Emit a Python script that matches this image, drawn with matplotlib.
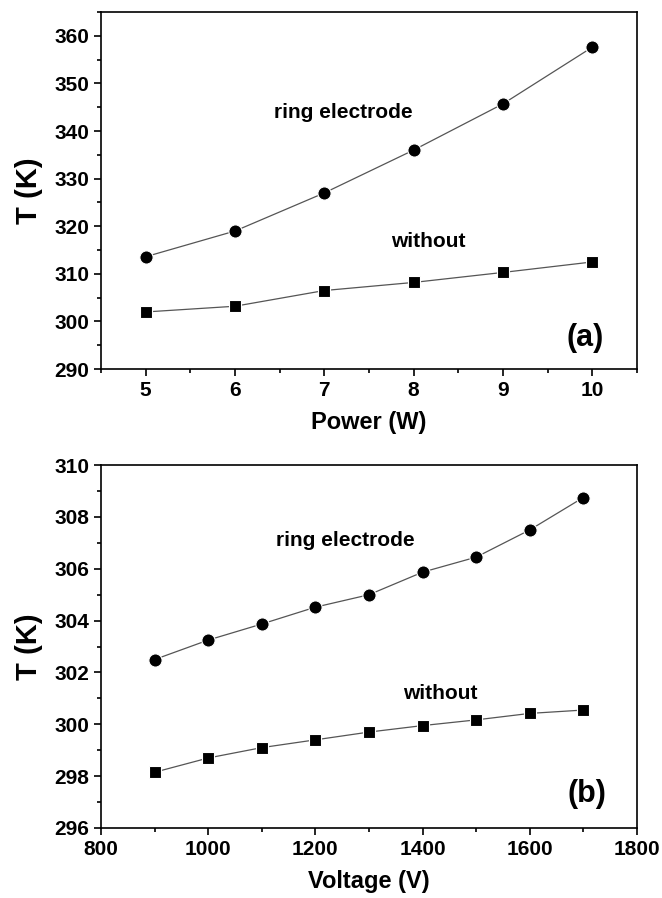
import numpy as np
import matplotlib
matplotlib.use('Agg')
import matplotlib.pyplot as plt
from matplotlib.ticker import MultipleLocator

plt.rcParams['font.family'] = ['Liberation Sans', 'DejaVu Sans']
plt.rcParams['font.weight'] = 'bold'

# panel (a): temperature vs power
power = [5, 6, 7, 8, 9, 10]
ring_a = [313.6, 319.0, 327.0, 336.0, 345.7, 357.6]
without_a = [302.0, 303.2, 306.5, 308.2, 310.3, 312.5]

# panel (b): temperature vs voltage
voltage = [900, 1000, 1100, 1200, 1300, 1400, 1500, 1600, 1700]
ring_b = [302.5, 303.25, 303.87, 304.52, 305.0, 305.87, 306.45, 307.5, 308.75]
without_b = [298.15, 298.7, 299.1, 299.4, 299.7, 299.95, 300.17, 300.42, 300.55]

fig = plt.figure(figsize=(6.62, 8.98), dpi=100)
ax1 = fig.add_axes([0.1526, 0.589, 0.8094, 0.3976])
ax2 = fig.add_axes([0.1526, 0.078, 0.8094, 0.404])


def style(ax):
    ax.tick_params(which='both', direction='out', top=False, right=False,
                   labelsize=15, width=1.2)
    ax.tick_params(which='major', length=5)
    ax.tick_params(which='minor', length=3)
    for s in ax.spines.values():
        s.set_linewidth(1.2)
    for lab in ax.get_xticklabels() + ax.get_yticklabels():
        lab.set_fontweight('bold')


def draw(ax, x, ring, without):
    ax.plot(x, ring, color='#555555', lw=0.9, marker='o', ms=9.5,
            mfc='black', mec='white', mew=0.8)
    ax.plot(x, without, color='#555555', lw=0.9, marker='s', ms=9,
            mfc='black', mec='white', mew=0.8)


draw(ax1, power, ring_a, without_a)
ax1.set_xlim(4.5, 10.5)
ax1.set_ylim(290, 365)
ax1.xaxis.set_major_locator(MultipleLocator(1))
ax1.xaxis.set_minor_locator(MultipleLocator(0.5))
ax1.yaxis.set_major_locator(MultipleLocator(10))
ax1.yaxis.set_minor_locator(MultipleLocator(5))
ax1.set_xlabel('Power (W)', fontsize=17, fontweight='bold', labelpad=8)
ax1.set_ylabel('T (K)', fontsize=21, fontweight='bold', labelpad=8)
ax1.text(7.21, 343.9, 'ring electrode', fontsize=15, fontweight='bold', ha='center', va='center')
ax1.text(8.16, 316.8, 'without', fontsize=15, fontweight='bold', ha='center', va='center')
ax1.text(9.92, 296.5, '(a)', fontsize=22, fontweight='bold', ha='center', va='center')
style(ax1)

draw(ax2, voltage, ring_b, without_b)
ax2.set_xlim(800, 1800)
ax2.set_ylim(296, 310)
ax2.xaxis.set_major_locator(MultipleLocator(200))
ax2.xaxis.set_minor_locator(MultipleLocator(100))
ax2.yaxis.set_major_locator(MultipleLocator(2))
ax2.yaxis.set_minor_locator(MultipleLocator(1))
ax2.set_xlabel('Voltage (V)', fontsize=17, fontweight='bold', labelpad=8)
ax2.set_ylabel('T (K)', fontsize=21, fontweight='bold', labelpad=8)
ax2.text(1255, 307.1, 'ring electrode', fontsize=15, fontweight='bold', ha='center', va='center')
ax2.text(1434, 301.2, 'without', fontsize=15, fontweight='bold', ha='center', va='center')
ax2.text(1707, 297.3, '(b)', fontsize=22, fontweight='bold', ha='center', va='center')
style(ax2)

fig.savefig('out.png', dpi=100)
